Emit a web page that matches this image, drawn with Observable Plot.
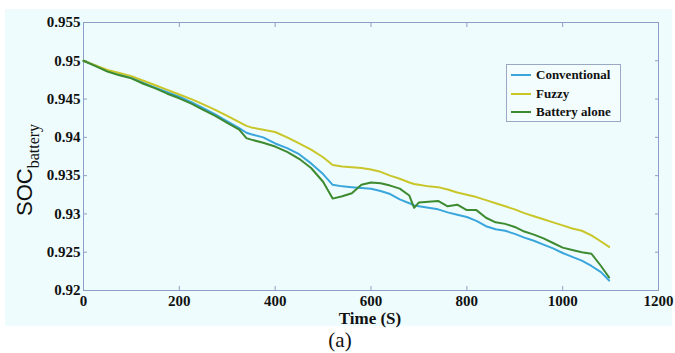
<!DOCTYPE html>
<html>
<head>
<meta charset="utf-8">
<script src="https://cdn.jsdelivr.net/npm/d3@7"></script>
<script src="https://cdn.jsdelivr.net/npm/@observablehq/plot@0.6"></script>
<style>
  html, body { margin: 0; padding: 0; background: #ffffff; }
  #wrap { position: relative; width: 675px; height: 353px; overflow: hidden; }
  #bg { position: absolute; left: 5px; top: 9px; width: 667px; height: 317px; background: #eefcfd; }
  #chart { position: absolute; left: 0; top: 0; }
  #chart svg text { font-family: "Liberation Serif", "Times New Roman", serif; }
  #legend { position: absolute; left: 506px; top: 64px; width: 115px; height: 58px;
            border: 1px solid #9aa8c6; background: #f3fdfd; box-sizing: border-box;
            font-family: "Liberation Serif", "Times New Roman", serif; font-weight: bold; font-size: 13px; color: #111; }
  .row { position: absolute; left: 4px; height: 16px; line-height: 16px; white-space: nowrap; }
  .sw { display: inline-block; width: 20px; height: 2px; vertical-align: middle; margin-right: 5px; position: relative; top: -1px; }
  #cap { position: absolute; left: 0; width: 680px; top: 328px; text-align: center;
         font-family: "Liberation Serif", "Times New Roman", serif; font-size: 21px; color: #111; }
</style>
</head>
<body>
<div id="wrap">
  <div id="bg"></div>
  <div id="chart"></div>
  <div id="legend"></div>
  <div id="cap">(a)</div>
</div>
<script>
const times = [0, 25, 50, 75, 100, 125, 150, 175, 200, 225, 250, 275, 300, 325, 340, 350, 375, 400, 425, 450, 475, 500, 520, 540, 560, 580, 600, 620, 640, 660, 680, 690, 700, 720, 740, 760, 780, 800, 820, 840, 860, 880, 900, 920, 940, 960, 980, 1000, 1020, 1040, 1060, 1080, 1097];

const conventional = [0.9500, 0.9494, 0.9487, 0.9482, 0.9478, 0.9471, 0.9465, 0.9459, 0.9453, 0.9446, 0.9438, 0.9430, 0.9421, 0.9412, 0.9406, 0.9404, 0.9400, 0.9392, 0.9386, 0.9378, 0.9366, 0.9352, 0.9338, 0.9336, 0.9335, 0.9334, 0.9333, 0.9330, 0.9326, 0.9319, 0.9314, 0.9311, 0.9310, 0.9308, 0.9306, 0.9302, 0.9299, 0.9296, 0.9291, 0.9284, 0.9280, 0.9278, 0.9274, 0.9269, 0.9265, 0.9260, 0.9255, 0.9249, 0.9244, 0.9239, 0.9232, 0.9224, 0.9213];

const fuzzy = [0.9500, 0.9494, 0.9488, 0.9484, 0.9480, 0.9474, 0.9468, 0.9462, 0.9456, 0.9450, 0.9443, 0.9436, 0.9428, 0.9420, 0.9415, 0.9413, 0.9410, 0.9407, 0.9400, 0.9392, 0.9384, 0.9374, 0.9364, 0.9362, 0.9361, 0.9360, 0.9358, 0.9355, 0.9350, 0.9346, 0.9341, 0.9339, 0.9338, 0.9336, 0.9335, 0.9332, 0.9328, 0.9325, 0.9322, 0.9318, 0.9314, 0.9310, 0.9306, 0.9301, 0.9297, 0.9293, 0.9289, 0.9285, 0.9281, 0.9278, 0.9272, 0.9264, 0.9257];

const batteryAlone = [0.9500, 0.9493, 0.9486, 0.9481, 0.9477, 0.9470, 0.9464, 0.9457, 0.9451, 0.9444, 0.9436, 0.9428, 0.9419, 0.9410, 0.9399, 0.9397, 0.9393, 0.9388, 0.9381, 0.9372, 0.9360, 0.9342, 0.9320, 0.9323, 0.9327, 0.9338, 0.9341, 0.9340, 0.9337, 0.9333, 0.9324, 0.9308, 0.9315, 0.9316, 0.9317, 0.9310, 0.9312, 0.9305, 0.9305, 0.9295, 0.9289, 0.9287, 0.9283, 0.9277, 0.9273, 0.9268, 0.9262, 0.9256, 0.9253, 0.9250, 0.9248, 0.9232, 0.9217];

const seriesNames = ["Conventional", "Fuzzy", "Battery alone"];
const xTicks = [0, 200, 400, 600, 800, 1000, 1200];
const yTicks = [0.92, 0.925, 0.93, 0.935, 0.94, 0.945, 0.95, 0.955];
const xLabel = "Time (S)";
const yLabelMain = "SOC";
const yLabelSub = "battery";

const seriesValues = [conventional, fuzzy, batteryAlone];
const rows = [];
seriesNames.forEach((name, k) => {
  times.forEach((t, i) => rows.push({t, v: seriesValues[k][i], s: name}));
});

const colors = ["#3aa6dc", "#c9c62a", "#3d8a30"];
const frameColor = "#8e9ec6";
const serif = "'Liberation Serif', 'Times New Roman', serif";
const fmtY = d => String(+d.toFixed(3));
const fmtX = d => String(d);

const chart = Plot.plot({
  width: 675,
  height: 330,
  marginTop: 22,
  marginRight: 17,
  marginBottom: 40,
  marginLeft: 83,
  style: {background: "transparent", fontFamily: serif, color: "#111"},
  x: {domain: [0, 1200]},
  y: {domain: [0.92, 0.955]},
  color: {domain: seriesNames, range: colors},
  marks: [
    Plot.axisX(xTicks, {anchor: "bottom", tickSize: 0, tickPadding: 5, fontSize: 15, fontWeight: "bold", fontFamily: serif, tickFormat: fmtX, label: null}),
    Plot.axisX(xTicks, {anchor: "bottom", tickSize: -4, text: null, stroke: frameColor, label: null}),
    Plot.axisX(xTicks, {anchor: "top", tickSize: -4, text: null, stroke: frameColor, label: null}),
    Plot.axisY(yTicks, {anchor: "left", tickSize: 0, tickPadding: 3, fontSize: 15, fontWeight: "bold", fontFamily: serif, tickFormat: fmtY, label: null}),
    Plot.axisY(yTicks, {anchor: "left", tickSize: -4, text: null, stroke: frameColor, label: null}),
    Plot.axisY(yTicks, {anchor: "right", tickSize: -4, text: null, stroke: frameColor, label: null}),
    Plot.frame({stroke: frameColor, strokeWidth: 1}),
    Plot.lineY(rows, {x: "t", y: "v", z: "s", stroke: "s", strokeWidth: 2, curve: "linear"})
  ]
});
document.getElementById("chart").appendChild(chart);

const svg = d3.select(chart);
svg.append("text")
  .attr("x", 370).attr("y", 324)
  .attr("text-anchor", "middle")
  .style("font-family", serif)
  .attr("font-weight", "bold").attr("font-size", 17).attr("fill", "#111")
  .text(xLabel);

const yl = svg.append("text")
  .attr("transform", "translate(32,216) rotate(-90)")
  .attr("text-anchor", "start")
  .attr("fill", "#111");
yl.append("tspan").style("font-family", "'Liberation Sans', Arial, sans-serif").attr("font-size", 22).text(yLabelMain);
yl.append("tspan").style("font-family", serif).attr("font-size", 16).attr("dy", 7).text(yLabelSub);

const legend = document.getElementById("legend");
seriesNames.forEach((name, i) => {
  const row = document.createElement("div");
  row.className = "row";
  row.style.top = (2 + i * 18.5) + "px";
  const sw = document.createElement("span");
  sw.className = "sw";
  sw.style.background = colors[i];
  row.appendChild(sw);
  row.appendChild(document.createTextNode(name));
  legend.appendChild(row);
});
</script>
</body>
</html>
